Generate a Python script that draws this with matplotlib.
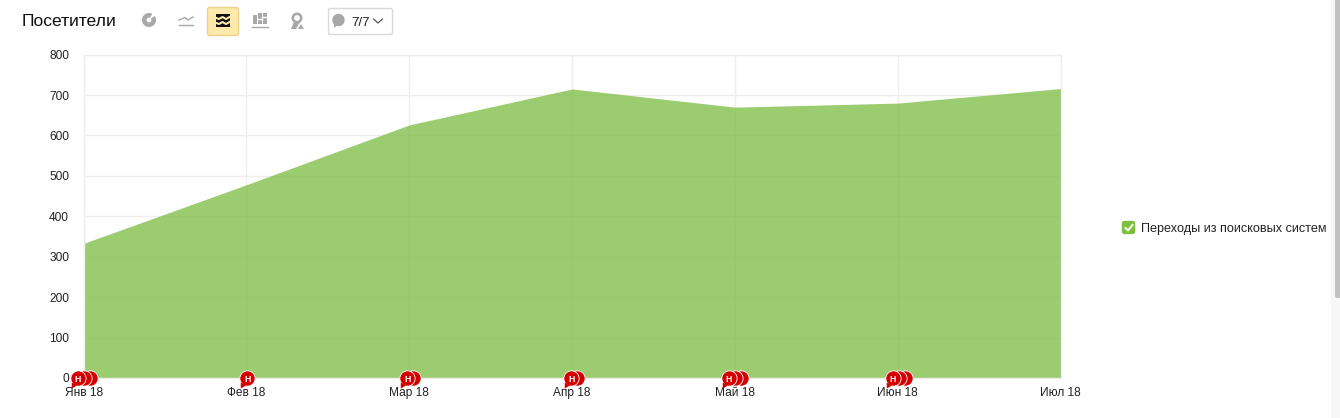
"""
Visitors area chart with the report toolbar above it.
"""

import numpy as np
import matplotlib
matplotlib.use("Agg")
import matplotlib.pyplot as plt
from matplotlib.patches import FancyBboxPatch, Circle, Wedge, Rectangle, Polygon
from matplotlib.transforms import offset_copy

plt.rcParams['font.family'] = ['Liberation Sans', 'DejaVu Sans']

# data

months = ["Янв 18", "Фев 18", "Мар 18", "Апр 18", "Май 18", "Июн 18", "Июл 18"]
visitors = [333, 478, 626, 715, 670, 680, 716]
y_ticks = [0, 100, 200, 300, 400, 500, 600, 700, 800]
event_counts = [3, 1, 2, 2, 3, 3, 0]
series_name = "Переходы из поисковых систем"
title = "Посетители"
notes_label = "7/7"

# style constants

W, H = 1340, 418
GRID = "#eeeeee"
TEXT = "#222222"
ICON = "#a8a8a8"
RED = "#d40000"
FILL = "#82c04b"
# shift of the front note from its tick, pixels
NOTE_SHIFT = [-6, 1, -2, -1, -6, -5, 0]
NOTE_STEP = 6

fig = plt.figure(figsize=(W / 100, H / 100), dpi=100, facecolor="white")

left, right, top, bottom = 83.6, 1060.6, 54.6, 378
ax = fig.add_axes([left / W, 1 - bottom / H, (right - left) / W, (bottom - top) / H])

x = np.arange(len(months))
ax.fill_between(x, visitors, 0, color=FILL, alpha=0.8, lw=0, zorder=2)
ax.set_xlim(0, len(months) - 1)
ax.set_ylim(0, 800)
ax.set_xticks(x, months)
ax.set_yticks(y_ticks)
ax.grid(True, color=GRID, lw=1, zorder=1)
ax.set_axisbelow(True)
ax.tick_params(length=0, labelsize=8.6, labelcolor=TEXT)
ax.tick_params(axis="x", pad=6.5)
ax.tick_params(axis="y", pad=10.5)
for side in ax.spines.values():
    side.set_color(GRID)
    side.set_linewidth(1)


def shifted(dx, dy=0):
    """ Data transform moved by some pixels. """
    return offset_copy(ax.transData, fig=fig, x=dx, y=dy, units="dots")


# notes, the first one of a month lies on top
for i, count in enumerate(event_counts):
    for k in range(count - 1, -1, -1):
        ax.plot([i], [0], marker="o", ms=11, mfc=RED, mec="white", mew=0.6,
                transform=shifted(NOTE_SHIFT[i] + k * NOTE_STEP), clip_on=False, zorder=10 - k)
    if count:
        ax.plot([i], [0], marker=(3, 0, 150), ms=5, mfc=RED, mec=RED, mew=0,
                transform=shifted(NOTE_SHIFT[i] - 5, -7), clip_on=False, zorder=12)
        ax.annotate("Н", (i, 0), xytext=(NOTE_SHIFT[i], 0), textcoords="offset pixels",
                    ha="center", va="center_baseline", fontsize=6.2, fontweight="bold",
                    color="white", zorder=13, annotation_clip=False)

# everything around the chart, drawn in pixels of the picture
ui = fig.add_axes([0, 0, 1, 1], facecolor="none", zorder=5)
ui.set_xlim(0, W)
ui.set_ylim(H, 0)
ui.axis("off")

ui.text(22, 21, title, fontsize=12.6, color="#111111", va="center", ha="left")

# pie icon
ui.add_patch(Wedge((149, 20), 7, 0, 360, width=4.6, fc=ICON, lw=0))
ui.add_patch(Wedge((149, 20), 8, -62, -35, fc="white", lw=0))

# line icon
ui.plot([179, 185, 188, 193], [20, 17.5, 20, 17], color=ICON, lw=1)
ui.plot([179, 193], [25, 25], color=ICON, lw=1)

# selected area icon button
ui.add_patch(FancyBboxPatch((207.5, 7.5), 31, 28, boxstyle="round,pad=0,rounding_size=2",
                            fc="#fde9a9", ec="#ecd08d", lw=1))
ui.add_patch(Rectangle((215.5, 13.5), 14.5, 13.5, fc="#111111", lw=0))
for wave in [17.5, 22.5]:
    ui.plot([215, 219, 222.5, 226, 230.5], [wave, wave + 1.5, wave - 0.5, wave + 1.5, wave - 1],
            color="#fde9a9", lw=1.5)

# bars icon
for bx, by in [(253, 15), (258, 13), (263, 13)]:
    ui.add_patch(Rectangle((bx, by), 4, 24 - by, fc=ICON, lw=0))
ui.plot([252, 268], [26.5, 26.5], color=ICON, lw=1)
ui.plot([263, 267], [17, 17], color="white", lw=1)
ui.plot([258, 262], [19, 19], color="white", lw=1)

# map pin icon
ui.add_patch(Wedge((297, 18), 5.5, 0, 360, width=2.6, fc=ICON, lw=0))
ui.add_patch(Polygon([(294, 22), (300, 22), (296, 29), (291, 29)], fc=ICON, lw=0))
ui.add_patch(Polygon([(298, 29), (301, 24), (304, 29)], fc=ICON, lw=0))

# notes button
ui.add_patch(FancyBboxPatch((328.5, 8.5), 64, 26, boxstyle="round,pad=0,rounding_size=2",
                            fc="white", ec="#d9d9d9", lw=1))
ui.add_patch(Circle((338.5, 20), 6.2, fc=ICON, lw=0))
ui.add_patch(Polygon([(334, 23), (338, 25), (334, 27.5)], fc=ICON, lw=0))
ui.text(351, 22.5, notes_label, fontsize=9.6, color=TEXT, va="center", ha="left")
ui.plot([373.5, 378, 382.5], [19, 23, 19], color="#444444", lw=0.8)

# legend
ui.add_patch(FancyBboxPatch((1122.5, 221.5), 12, 12, boxstyle="round,pad=0,rounding_size=2",
                            fc="#7fbf3f", ec="#7fbf3f", lw=1))
ui.plot([1125.5, 1128, 1132.5], [228, 230.5, 225], color="white", lw=1.4)
ui.text(1141, 229, series_name, fontsize=9.05, color=TEXT, va="center", ha="left")

# page scrollbar
ui.add_patch(Rectangle((1331, 0), 9, H, fc="#f7f7f7", lw=0))
ui.add_patch(FancyBboxPatch((1335, -5), 8, 303, boxstyle="round,pad=0,rounding_size=2",
                            fc="#c1c1c1", lw=0))

fig.savefig("out.png", dpi=100)
